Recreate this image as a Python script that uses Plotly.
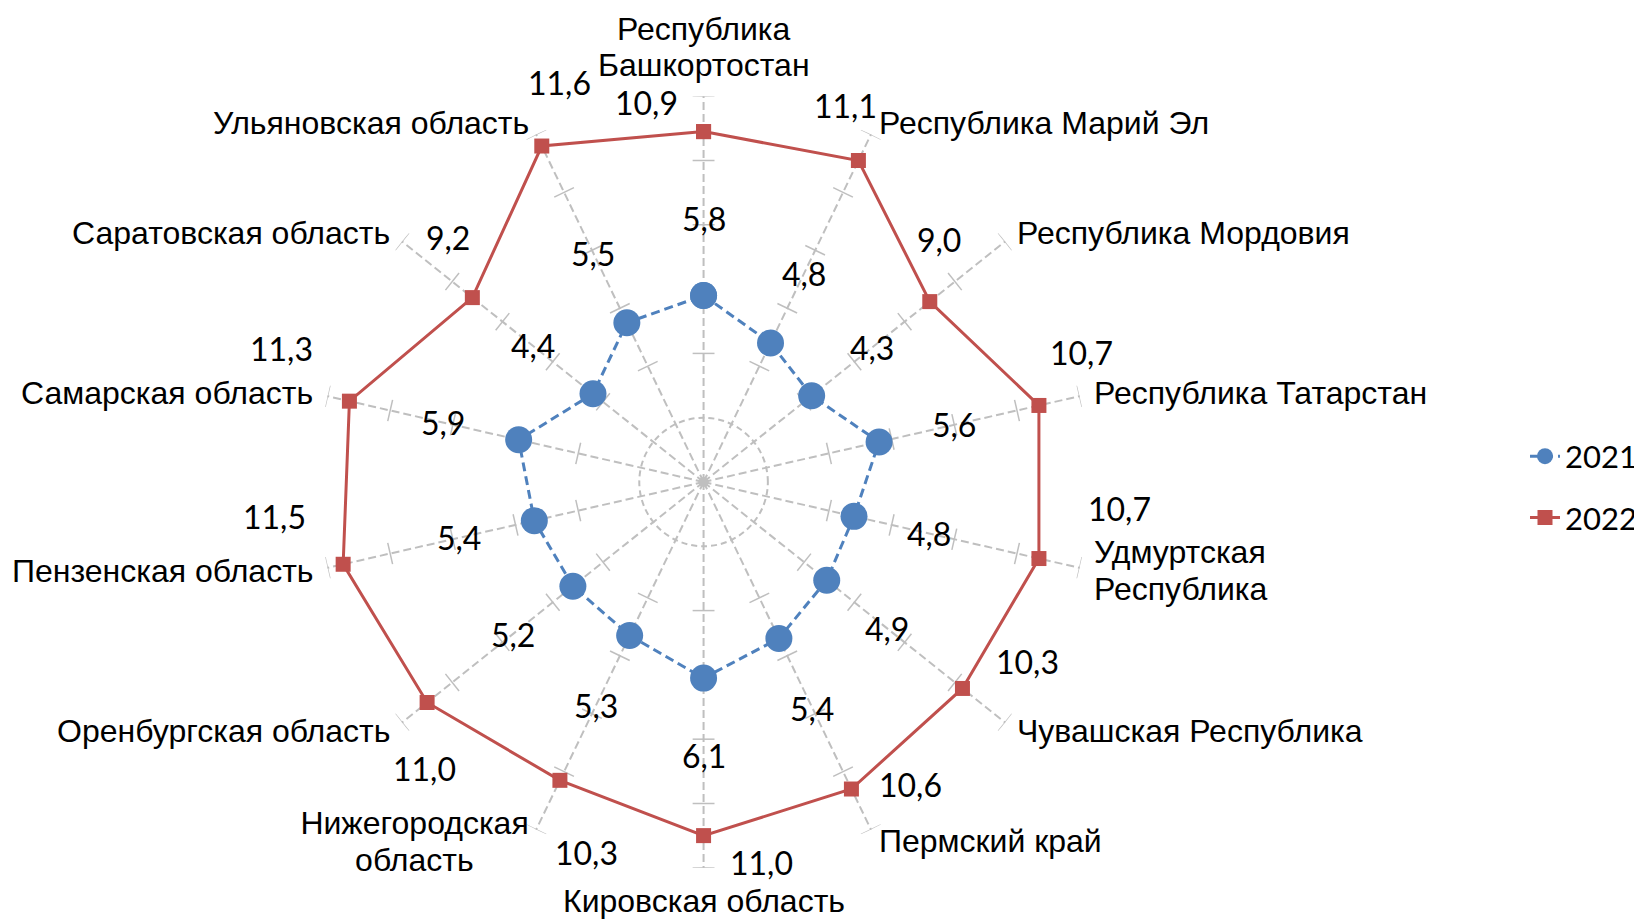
import math
import plotly.graph_objects as go

# ---------------- data ----------------
categories = [
    "Республика<br>Башкортостан", "Республика Марий Эл", "Республика Мордовия",
    "Республика Татарстан", "Удмуртская<br>Республика", "Чувашская Республика",
    "Пермский край", "Кировская область", "Нижегородская<br>область",
    "Оренбургская область", "Пензенская область", "Самарская область",
    "Саратовская область", "Ульяновская область",
]
values_2021 = [5.8, 4.8, 4.3, 5.6, 4.8, 4.9, 5.4, 6.1, 5.3, 5.2, 5.4, 5.9, 4.4, 5.5]
values_2022 = [10.9, 11.1, 9.0, 10.7, 10.7, 10.3, 10.6, 11.0, 10.3, 11.0, 11.5, 11.3, 9.2, 11.6]
series_names = ["2021", "2022"]
radial_ticks = [2, 4, 6, 8, 10, 12]

# ---------------- styling / layout helpers ----------------
W, H = 1634, 912                      # page body has an 8px margin
CX, CY, RPX = 696, 474, 386           # centre and outer radius in px (figure coords)
RMAX = 12
OVER = 13                             # overlay axis half-range (for labels)
BLUE = "#4F81BD"
RED = "#C0504D"
GRID = "#BFBFBF"
CAT_SIZE = 32
CAT_FONT = dict(family="Liberation Sans, Arial", size=CAT_SIZE, color="black")
VAL_FONT = dict(family="Lato, Open Sans", size=32, color="black")
LINE_H = 36.6                         # line spacing of two-line category labels, px

# pixel offsets for the 2022 value labels (label centre minus point, px; y down)
offsets_2022 = [(-57, -29), (-13, -55), (9, -62), (43, -53), (81, -50), (65, -27),
                (59, -5), (58, 27), (27, 72), (-3, 66), (-69, -48), (-68, -53),
                (-24, -60), (18, -63)]

n = len(categories)
theta = [i * 360.0 / n for i in range(n)]

dom_x = [(CX - RPX) / W, (CX + RPX) / W]
dom_y = [1 - (CY + RPX) / H, 1 - (CY - RPX) / H]
ppu = RPX / RMAX
odom_x = [(CX - OVER * ppu) / W, (CX + OVER * ppu) / W]
odom_y = [1 - (CY + OVER * ppu) / H, 1 - (CY - OVER * ppu) / H]


def xy(r, t):
    a = math.radians(t)
    return r * math.sin(a), r * math.cos(a)


fig = go.Figure()

# tick crosses on each spoke
tr, tt = [], []
h = 0.34
for t in theta:
    for r0 in radial_ticks[1:]:
        rr = math.hypot(r0, h)
        d = math.degrees(math.atan2(h, r0))
        tr += [rr, rr, None]
        tt += [t - d, t + d, None]
fig.add_trace(go.Scatterpolar(r=tr, theta=tt, mode="lines",
                              line=dict(color=GRID, width=1.5),
                              showlegend=False, hoverinfo="skip"))

# centre dot
fig.add_trace(go.Scatterpolar(r=[0], theta=[0], mode="markers",
                              marker=dict(color=GRID, size=10),
                              showlegend=False, hoverinfo="skip"))

# series
fig.add_trace(go.Scatterpolar(
    r=values_2021 + values_2021[:1], theta=theta + theta[:1],
    mode="lines+markers", name=series_names[0], legendgroup="a",
    line=dict(color=BLUE, width=3, dash="9px,5px"),
    marker=dict(color=BLUE, size=27, symbol="circle"),
))
fig.add_trace(go.Scatterpolar(
    r=values_2022 + values_2022[:1], theta=theta + theta[:1],
    mode="lines+markers", name=series_names[1], legendgroup="b",
    line=dict(color=RED, width=3),
    marker=dict(color=RED, size=15, symbol="square"),
))

# invisible cartesian trace to create the overlay axes for annotations
fig.add_trace(go.Scatter(x=[None], y=[None], showlegend=False, hoverinfo="skip"))

annotations = []
# 2021 value labels along the spoke
for t, v in zip(theta, values_2021):
    x, y = xy(v + 2.4, t)
    annotations.append(dict(x=x, y=y, xref="x", yref="y", text=f"{v:.1f}".replace(".", ","),
                            showarrow=False, font=VAL_FONT, xanchor="center", yanchor="middle"))
# 2022 value labels
for t, v, (dx, dy) in zip(theta, values_2022, offsets_2022):
    x, y = xy(v, t)
    annotations.append(dict(x=x, y=y, xref="x", yref="y", text=f"{v:.1f}".replace(".", ","),
                            showarrow=False, font=VAL_FONT, xanchor="center", yanchor="middle",
                            xshift=dx, yshift=-dy))
# category labels (each line its own annotation for tighter line spacing)
for t, c in zip(theta, categories):
    x, y = xy(12.4, t)
    s = math.sin(math.radians(t))
    co = math.cos(math.radians(t))
    lines = c.split("<br>")
    nl = len(lines)
    longest = max(range(nl), key=lambda k: len(lines[k]))
    box_w = len(lines[longest]) * 0.545 * CAT_SIZE + 2 if nl > 1 else None
    for i, line in enumerate(lines):
        if abs(s) < 0.1:
            xa = "center"
            if co > 0:
                ya, ys = "bottom", (nl - 1 - i) * LINE_H - 2
            else:
                ya, ys = "top", -i * LINE_H
        else:
            xa = "left" if s > 0 else "right"
            ya, ys = "middle", ((nl - 1) / 2 - i) * LINE_H
        if xa == "left":
            al = "left"
        elif xa == "right" and i == longest:
            al = "right"
        else:
            al = "center"
        ann = dict(x=x, y=y, xref="x", yref="y", text=line, showarrow=False,
                   font=CAT_FONT, xanchor=xa, yanchor=ya, align=al, yshift=ys)
        if box_w and xa == "right":
            ann["width"] = box_w
        annotations.append(ann)

fig.update_layout(
    width=W, height=H,
    margin=dict(l=0, r=0, t=0, b=0),
    paper_bgcolor="white", plot_bgcolor="rgba(0,0,0,0)",
    polar=dict(
        domain=dict(x=dom_x, y=dom_y),
        bgcolor="white",
        gridshape="linear",
        radialaxis=dict(range=[0, RMAX], tickvals=[radial_ticks[0]], showticklabels=False,
                        ticks="", showline=False, showgrid=True, gridcolor=GRID,
                        griddash="6px,4px", gridwidth=1.5),
        angularaxis=dict(rotation=90, direction="clockwise", thetaunit="degrees",
                         tickvals=theta, showticklabels=False, ticks="", showline=False,
                         showgrid=True, gridcolor=GRID, griddash="8px,4px", gridwidth=1.75),
    ),
    xaxis=dict(domain=odom_x, range=[-OVER, OVER], visible=False, fixedrange=True),
    yaxis=dict(domain=odom_y, range=[-OVER, OVER], visible=False, fixedrange=True),
    legend=dict(x=0.929, y=1 - 479 / H, xanchor="left", yanchor="middle",
                font=dict(family="Lato, Open Sans", size=31, color="black"),
                traceorder="grouped", tracegroupgap=18, bgcolor="rgba(0,0,0,0)"),
    annotations=annotations,
)

fig.write_html("out.html")
